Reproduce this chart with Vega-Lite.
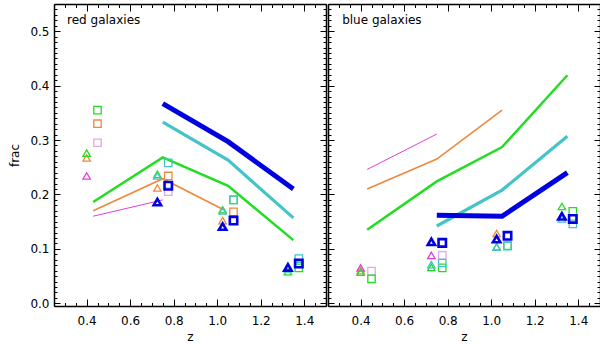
{
  "$schema": "https://vega.github.io/schema/vega-lite/v6.json",
  "padding": {"left": 8, "top": 3, "right": 6, "bottom": 0},
  "spacing": 0,
  "background": "white",
  "config": {
    "view": {"stroke": null},
    "axis": {
      "domainColor": "black", "domainWidth": 1.5, "tickColor": "black", "tickWidth": 1,
      "labelFont": "DejaVu Sans", "labelFontSize": 12, "labelColor": "black",
      "titleFont": "DejaVu Sans", "titleFontSize": 12, "titleFontWeight": "normal", "titleColor": "black",
      "grid": false, "labelOverlap": false, "labelFlush": false
    }
  },
  "datasets": {
    "d": [
      {"p": "red", "k": "line", "s": "blue", "z": 0.75, "v": 0.367},
      {"p": "red", "k": "line", "s": "blue", "z": 1.05, "v": 0.297},
      {"p": "red", "k": "line", "s": "blue", "z": 1.35, "v": 0.21},
      {"p": "red", "k": "line", "s": "cyan", "z": 0.75, "v": 0.333},
      {"p": "red", "k": "line", "s": "cyan", "z": 1.05, "v": 0.263},
      {"p": "red", "k": "line", "s": "cyan", "z": 1.35, "v": 0.157},
      {"p": "red", "k": "line", "s": "green", "z": 0.43, "v": 0.186},
      {"p": "red", "k": "line", "s": "green", "z": 0.75, "v": 0.268},
      {"p": "red", "k": "line", "s": "green", "z": 1.05, "v": 0.216},
      {"p": "red", "k": "line", "s": "green", "z": 1.35, "v": 0.116},
      {"p": "red", "k": "line", "s": "orange", "z": 0.43, "v": 0.17},
      {"p": "red", "k": "line", "s": "orange", "z": 0.75, "v": 0.229},
      {"p": "red", "k": "line", "s": "orange", "z": 1.03, "v": 0.172},
      {"p": "red", "k": "line", "s": "mag", "z": 0.43, "v": 0.16},
      {"p": "red", "k": "line", "s": "mag", "z": 0.75, "v": 0.19},

      {"p": "red", "k": "tri", "s": "mag", "z": 0.4, "v": 0.234},
      {"p": "red", "k": "tri", "s": "orange", "z": 0.4, "v": 0.267},
      {"p": "red", "k": "tri", "s": "green", "z": 0.4, "v": 0.276},
      {"p": "red", "k": "sq", "s": "magl", "z": 0.45, "v": 0.295},
      {"p": "red", "k": "sq", "s": "orange", "z": 0.45, "v": 0.33},
      {"p": "red", "k": "sq", "s": "green", "z": 0.45, "v": 0.355},
      {"p": "red", "k": "tri", "s": "orange", "z": 0.725, "v": 0.212},
      {"p": "red", "k": "tri", "s": "green", "z": 0.725, "v": 0.237},
      {"p": "red", "k": "tri", "s": "cyan", "z": 0.725, "v": 0.234},
      {"p": "red", "k": "tri", "s": "blue", "z": 0.725, "v": 0.186},
      {"p": "red", "k": "sq", "s": "magl", "z": 0.775, "v": 0.205},
      {"p": "red", "k": "sq", "s": "orange", "z": 0.775, "v": 0.234},
      {"p": "red", "k": "sq", "s": "cyan", "z": 0.775, "v": 0.258},
      {"p": "red", "k": "sq", "s": "blue", "z": 0.775, "v": 0.216},
      {"p": "red", "k": "tri", "s": "orange", "z": 1.025, "v": 0.152},
      {"p": "red", "k": "tri", "s": "green", "z": 1.025, "v": 0.172},
      {"p": "red", "k": "tri", "s": "cyan", "z": 1.025, "v": 0.17},
      {"p": "red", "k": "tri", "s": "blue", "z": 1.025, "v": 0.141},
      {"p": "red", "k": "sq", "s": "orange", "z": 1.075, "v": 0.168},
      {"p": "red", "k": "sq", "s": "green", "z": 1.075, "v": 0.19},
      {"p": "red", "k": "sq", "s": "cyan", "z": 1.075, "v": 0.19},
      {"p": "red", "k": "sq", "s": "blue", "z": 1.075, "v": 0.152},
      {"p": "red", "k": "tri", "s": "green", "z": 1.325, "v": 0.058},
      {"p": "red", "k": "tri", "s": "cyan", "z": 1.325, "v": 0.063},
      {"p": "red", "k": "tri", "s": "blue", "z": 1.325, "v": 0.066},
      {"p": "red", "k": "sq", "s": "green", "z": 1.375, "v": 0.065},
      {"p": "red", "k": "sq", "s": "cyan", "z": 1.375, "v": 0.082},
      {"p": "red", "k": "sq", "s": "blue", "z": 1.375, "v": 0.073},

      {"p": "blue", "k": "line", "s": "mag", "z": 0.43, "v": 0.246},
      {"p": "blue", "k": "line", "s": "mag", "z": 0.75, "v": 0.311},
      {"p": "blue", "k": "line", "s": "orange", "z": 0.43, "v": 0.21},
      {"p": "blue", "k": "line", "s": "orange", "z": 0.75, "v": 0.265},
      {"p": "blue", "k": "line", "s": "orange", "z": 1.05, "v": 0.355},
      {"p": "blue", "k": "line", "s": "green", "z": 0.43, "v": 0.135},
      {"p": "blue", "k": "line", "s": "green", "z": 0.75, "v": 0.224},
      {"p": "blue", "k": "line", "s": "green", "z": 1.05, "v": 0.287},
      {"p": "blue", "k": "line", "s": "green", "z": 1.35, "v": 0.419},
      {"p": "blue", "k": "line", "s": "cyan", "z": 0.75, "v": 0.142},
      {"p": "blue", "k": "line", "s": "cyan", "z": 1.05, "v": 0.208},
      {"p": "blue", "k": "line", "s": "cyan", "z": 1.35, "v": 0.307},
      {"p": "blue", "k": "line", "s": "blue", "z": 0.75, "v": 0.162},
      {"p": "blue", "k": "line", "s": "blue", "z": 1.05, "v": 0.16},
      {"p": "blue", "k": "line", "s": "blue", "z": 1.35, "v": 0.24},

      {"p": "blue", "k": "tri", "s": "orange", "z": 0.4, "v": 0.06},
      {"p": "blue", "k": "tri", "s": "mag", "z": 0.4, "v": 0.065},
      {"p": "blue", "k": "tri", "s": "green", "z": 0.4, "v": 0.057},
      {"p": "blue", "k": "sq", "s": "magl", "z": 0.45, "v": 0.059},
      {"p": "blue", "k": "sq", "s": "green", "z": 0.45, "v": 0.045},
      {"p": "blue", "k": "tri", "s": "mag", "z": 0.725, "v": 0.088},
      {"p": "blue", "k": "tri", "s": "green", "z": 0.725, "v": 0.066},
      {"p": "blue", "k": "tri", "s": "cyan", "z": 0.725, "v": 0.071},
      {"p": "blue", "k": "tri", "s": "blue", "z": 0.725, "v": 0.113},
      {"p": "blue", "k": "sq", "s": "magl", "z": 0.775, "v": 0.088},
      {"p": "blue", "k": "sq", "s": "green", "z": 0.775, "v": 0.065},
      {"p": "blue", "k": "sq", "s": "cyan", "z": 0.775, "v": 0.074},
      {"p": "blue", "k": "sq", "s": "blue", "z": 0.775, "v": 0.111},
      {"p": "blue", "k": "tri", "s": "orange", "z": 1.025, "v": 0.128},
      {"p": "blue", "k": "tri", "s": "green", "z": 1.025, "v": 0.104},
      {"p": "blue", "k": "tri", "s": "cyan", "z": 1.025, "v": 0.103},
      {"p": "blue", "k": "tri", "s": "blue", "z": 1.025, "v": 0.118},
      {"p": "blue", "k": "sq", "s": "green", "z": 1.075, "v": 0.106},
      {"p": "blue", "k": "sq", "s": "cyan", "z": 1.075, "v": 0.105},
      {"p": "blue", "k": "sq", "s": "blue", "z": 1.075, "v": 0.124},
      {"p": "blue", "k": "tri", "s": "green", "z": 1.325, "v": 0.178},
      {"p": "blue", "k": "tri", "s": "cyan", "z": 1.325, "v": 0.155},
      {"p": "blue", "k": "tri", "s": "blue", "z": 1.325, "v": 0.16},
      {"p": "blue", "k": "sq", "s": "green", "z": 1.375, "v": 0.169},
      {"p": "blue", "k": "sq", "s": "cyan", "z": 1.375, "v": 0.146},
      {"p": "blue", "k": "sq", "s": "blue", "z": 1.375, "v": 0.155}
    ]
  },
  "hconcat": [
    {
      "width": 272, "height": 302,
      "data": {"name": "d"},
      "transform": [{"filter": "datum.p === 'red'"}],
      "layer": [
        {
          "transform": [{"filter": "datum.k === 'line'"}],
          "mark": {"type": "line", "strokeCap": "butt"},
          "encoding": {
            "x": {"field": "z", "type": "quantitative", "scale": {"domain": [0.25, 1.5], "nice": false, "zero": false},
              "axis": {"orient": "bottom", "title": "z", "values": [0.25,0.3,0.35,0.4,0.45,0.5,0.55,0.6,0.65,0.7,0.75,0.8,0.85,0.9,0.95,1,1.05,1.1,1.15,1.2,1.25,1.3,1.35,1.4,1.45,1.5],
                "tickSize": {"condition": {"test": "abs(datum.value*5-round(datum.value*5))<0.001", "value": -7}, "value": -3.5},
                "labelExpr": "abs(datum.value*5-round(datum.value*5))<0.001 ? format(datum.value,'.1f') : ''",
                "labelPadding": 16, "titlePadding": 2}},
            "y": {"field": "v", "type": "quantitative", "scale": {"domain": [-0.005, 0.55], "nice": false, "zero": false},
              "axis": {"orient": "left", "title": "frac", "values": [0,0.01,0.02,0.03,0.04,0.05,0.06,0.07,0.08,0.09,0.1,0.11,0.12,0.13,0.14,0.15,0.16,0.17,0.18,0.19,0.2,0.21,0.22,0.23,0.24,0.25,0.26,0.27,0.28,0.29,0.3,0.31,0.32,0.33,0.34,0.35,0.36,0.37,0.38,0.39,0.4,0.41,0.42,0.43,0.44,0.45,0.46,0.47,0.48,0.49,0.5,0.51,0.52,0.53,0.54],
                "tickSize": {"condition": {"test": "abs(datum.value*10-round(datum.value*10))<0.001", "value": -6}, "value": -3},
                "labelExpr": "abs(datum.value*10-round(datum.value*10))<0.001 ? format(datum.value,'.1f') : ''",
                "labelPadding": 11, "titlePadding": 8}},
            "color": {"field": "s", "type": "nominal", "scale": {"domain": ["mag", "magl", "orange", "green", "cyan", "blue"], "range": ["#e040d8", "#e0a8e8", "#f0883c", "#22dd22", "#44c4c8", "#0000e0"]}, "legend": null},
            "strokeWidth": {"condition": [{"test": "datum.s === 'blue'", "value": 5}, {"test": "datum.s === 'cyan'", "value": 3.2}, {"test": "datum.s === 'green'", "value": 2.5}, {"test": "datum.s === 'orange'", "value": 1.6}], "value": 1}
          }
        },
        {
          "transform": [{"filter": "datum.k !== 'line'"}],
          "mark": {"type": "point", "filled": false, "opacity": 1},
          "encoding": {
            "x": {"field": "z", "type": "quantitative",
              "axis": {"orient": "top", "title": null, "labels": false, "values": [0.25,0.3,0.35,0.4,0.45,0.5,0.55,0.6,0.65,0.7,0.75,0.8,0.85,0.9,0.95,1,1.05,1.1,1.15,1.2,1.25,1.3,1.35,1.4,1.45,1.5],
                "tickSize": {"condition": {"test": "abs(datum.value*5-round(datum.value*5))<0.001", "value": -7}, "value": -3.5}}},
            "y": {"field": "v", "type": "quantitative",
              "axis": {"orient": "right", "title": null, "labels": false, "values": [0,0.01,0.02,0.03,0.04,0.05,0.06,0.07,0.08,0.09,0.1,0.11,0.12,0.13,0.14,0.15,0.16,0.17,0.18,0.19,0.2,0.21,0.22,0.23,0.24,0.25,0.26,0.27,0.28,0.29,0.3,0.31,0.32,0.33,0.34,0.35,0.36,0.37,0.38,0.39,0.4,0.41,0.42,0.43,0.44,0.45,0.46,0.47,0.48,0.49,0.5,0.51,0.52,0.53,0.54,0.55],
                "tickSize": {"condition": {"test": "abs(datum.value*10-round(datum.value*10))<0.001", "value": -6}, "value": -3}}},
            "color": {"field": "s", "type": "nominal", "legend": null},
            "shape": {"field": "k", "type": "nominal", "scale": {"domain": ["tri", "sq"], "range": ["triangle-up", "square"]}, "legend": null},
            "size": {"value": 55},
            "strokeWidth": {"condition": {"test": "datum.s === 'blue'", "value": 2.6}, "value": 1.3}
          }
        },
        {
          "data": {"values": [{"t": "red galaxies"}]},
          "mark": {"type": "text", "align": "left", "baseline": "middle", "font": "DejaVu Sans", "fontSize": 12, "color": "black"},
          "encoding": {
            "x": {"datum": 0.31, "type": "quantitative", "axis": null},
            "y": {"datum": 0.52, "type": "quantitative", "axis": null},
            "text": {"field": "t"}
          }
        }
      ],
      "resolve": {"axis": {"x": "independent", "y": "independent"}}
    },
    {
      "width": 272, "height": 302,
      "data": {"name": "d"},
      "transform": [{"filter": "datum.p === 'blue'"}],
      "layer": [
        {
          "transform": [{"filter": "datum.k === 'line'"}],
          "mark": {"type": "line", "strokeCap": "butt"},
          "encoding": {
            "x": {"field": "z", "type": "quantitative", "scale": {"domain": [0.25, 1.5], "nice": false, "zero": false},
              "axis": {"orient": "bottom", "title": "z", "values": [0.25,0.3,0.35,0.4,0.45,0.5,0.55,0.6,0.65,0.7,0.75,0.8,0.85,0.9,0.95,1,1.05,1.1,1.15,1.2,1.25,1.3,1.35,1.4,1.45,1.5],
                "tickSize": {"condition": {"test": "abs(datum.value*5-round(datum.value*5))<0.001", "value": -7}, "value": -3.5},
                "labelExpr": "abs(datum.value*5-round(datum.value*5))<0.001 ? format(datum.value,'.1f') : ''",
                "labelPadding": 16, "titlePadding": 2}},
            "y": {"field": "v", "type": "quantitative", "scale": {"domain": [-0.005, 0.55], "nice": false, "zero": false},
              "axis": {"orient": "left", "title": null, "labels": false, "values": [0,0.01,0.02,0.03,0.04,0.05,0.06,0.07,0.08,0.09,0.1,0.11,0.12,0.13,0.14,0.15,0.16,0.17,0.18,0.19,0.2,0.21,0.22,0.23,0.24,0.25,0.26,0.27,0.28,0.29,0.3,0.31,0.32,0.33,0.34,0.35,0.36,0.37,0.38,0.39,0.4,0.41,0.42,0.43,0.44,0.45,0.46,0.47,0.48,0.49,0.5,0.51,0.52,0.53,0.54,0.55],
                "tickSize": {"condition": {"test": "abs(datum.value*10-round(datum.value*10))<0.001", "value": -6}, "value": -3}}},
            "color": {"field": "s", "type": "nominal", "scale": {"domain": ["mag", "magl", "orange", "green", "cyan", "blue"], "range": ["#e040d8", "#e0a8e8", "#f0883c", "#22dd22", "#44c4c8", "#0000e0"]}, "legend": null},
            "strokeWidth": {"condition": [{"test": "datum.s === 'blue'", "value": 5}, {"test": "datum.s === 'cyan'", "value": 3.2}, {"test": "datum.s === 'green'", "value": 2.5}, {"test": "datum.s === 'orange'", "value": 1.6}], "value": 1}
          }
        },
        {
          "transform": [{"filter": "datum.k !== 'line'"}],
          "mark": {"type": "point", "filled": false, "opacity": 1},
          "encoding": {
            "x": {"field": "z", "type": "quantitative",
              "axis": {"orient": "top", "title": null, "labels": false, "values": [0.25,0.3,0.35,0.4,0.45,0.5,0.55,0.6,0.65,0.7,0.75,0.8,0.85,0.9,0.95,1,1.05,1.1,1.15,1.2,1.25,1.3,1.35,1.4,1.45,1.5],
                "tickSize": {"condition": {"test": "abs(datum.value*5-round(datum.value*5))<0.001", "value": -7}, "value": -3.5}}},
            "y": {"field": "v", "type": "quantitative",
              "axis": {"orient": "right", "title": null, "labels": false, "values": [0,0.01,0.02,0.03,0.04,0.05,0.06,0.07,0.08,0.09,0.1,0.11,0.12,0.13,0.14,0.15,0.16,0.17,0.18,0.19,0.2,0.21,0.22,0.23,0.24,0.25,0.26,0.27,0.28,0.29,0.3,0.31,0.32,0.33,0.34,0.35,0.36,0.37,0.38,0.39,0.4,0.41,0.42,0.43,0.44,0.45,0.46,0.47,0.48,0.49,0.5,0.51,0.52,0.53,0.54,0.55],
                "tickSize": {"condition": {"test": "abs(datum.value*10-round(datum.value*10))<0.001", "value": -6}, "value": -3}}},
            "color": {"field": "s", "type": "nominal", "legend": null},
            "shape": {"field": "k", "type": "nominal", "scale": {"domain": ["tri", "sq"], "range": ["triangle-up", "square"]}, "legend": null},
            "size": {"value": 55},
            "strokeWidth": {"condition": {"test": "datum.s === 'blue'", "value": 2.6}, "value": 1.3}
          }
        },
        {
          "data": {"values": [{"t": "blue galaxies"}]},
          "mark": {"type": "text", "align": "left", "baseline": "middle", "font": "DejaVu Sans", "fontSize": 12, "color": "black"},
          "encoding": {
            "x": {"datum": 0.315, "type": "quantitative", "axis": null},
            "y": {"datum": 0.52, "type": "quantitative", "axis": null},
            "text": {"field": "t"}
          }
        }
      ],
      "resolve": {"axis": {"x": "independent", "y": "independent"}}
    }
  ]
}
